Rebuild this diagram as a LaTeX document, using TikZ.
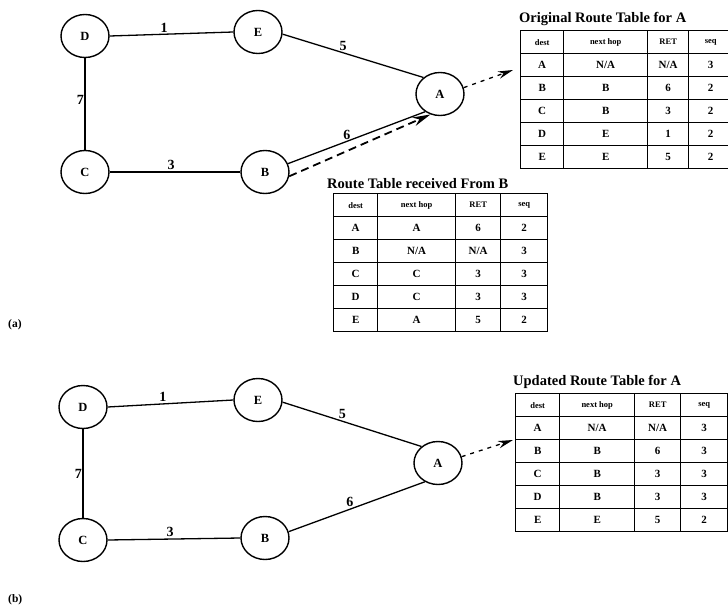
\documentclass[tikz,border=0pt]{standalone}
\usepackage{fontspec}
\setmainfont{Liberation Serif}
\usetikzlibrary{shapes.geometric,arrows.meta,matrix,calc}

\tikzset{
  router/.style={ellipse, draw, line width=1.4pt, minimum width=48pt, minimum height=43pt,
    inner sep=0pt, font=\bfseries\fontsize{12.5}{12.5}\selectfont},
  link/.style={line width=1.3pt},
  weight/.style={font=\bfseries\fontsize{14}{14}\selectfont, inner sep=1.5pt},
  update/.style={line width=1.8pt, dash pattern=on 8pt off 5pt, -{Stealth[length=18pt,width=9pt]}},
  handoff/.style={line width=1.3pt, dash pattern=on 4pt off 5pt, -{Stealth[length=15pt,width=7.5pt]}},
  routetable/.style={matrix of nodes, anchor=north west, inner sep=0pt, outer sep=0pt,
    column sep=-1.4pt, row sep=-1.4pt,
    nodes={draw, line width=1.4pt, inner sep=0pt, outer sep=0pt, minimum height=23pt,
      font=\bfseries\fontsize{11}{11}\selectfont, anchor=center},
    row 1/.style={nodes={font=\bfseries\fontsize{8.5}{9}\selectfont}}},
  tabletitle/.style={anchor=base west, inner sep=0pt, font=\bfseries\fontsize{14.5}{15}\selectfont},
  panel/.style={anchor=base west, inner sep=0pt, font=\bfseries\fontsize{11.5}{12}\selectfont},
}

\begin{document}
\begin{tikzpicture}[x=1pt, y=-1pt]
\useasboundingbox (0,0) rectangle (728,610);

% ---------- (a) network before the update ----------
\node[router] (Da) at (85,36)  {D};
\node[router] (Ea) at (258,32) {E};
\node[router] (Aa) at (440,94) {A};
\node[router] (Ca) at (85,172) {C};
\node[router] (Ba) at (265,172){B};

\draw[link] (Da.east) -- node[weight, above, pos=0.44] {1} (Ea.west);
\draw[link] (Ea.-5) -- node[weight, above, pos=0.43] {5} (Aa.135);
\draw[link] (Da.south) -- node[weight, left, pos=0.46, inner sep=0.5pt] {7} (Ca.north);
\draw[link] (Ca.east) -- node[weight, above, pos=0.47] {3} (Ba.west);
\draw[link] (Ba.20) -- node[weight, above, pos=0.43] {6} (Aa.-130);
\draw[update] (Ba.-10) -- (Aa.-115);

% original table of A
\node[tabletitle] (t1title) at (519,23) {Original Route Table for A};
\matrix[routetable,
  column 1/.style={nodes={minimum width=43pt}},
  column 2/.style={nodes={minimum width=84pt}},
  column 3/.style={nodes={minimum width=41pt}},
  column 4/.style={nodes={minimum width=44pt}}] (T1) at (520,30) {
  dest & next hop & RET & seq \\
  A & N/A & N/A & 3 \\
  B & B & 6 & 2 \\
  C & B & 3 & 2 \\
  D & E & 1 & 2 \\
  E & E & 5 & 2 \\
};
\coordinate (t1in) at (513,70);
\draw[handoff] (Aa.15) -- (t1in);

% table received from B
\node[tabletitle] (t2title) at (327,188) {Route Table received From B};
\matrix[routetable,
  column 1/.style={nodes={minimum width=44pt}},
  column 2/.style={nodes={minimum width=78pt}},
  column 3/.style={nodes={minimum width=45pt}},
  column 4/.style={nodes={minimum width=47pt}}] (T2) at (333,193) {
  dest & next hop & RET & seq \\
  A & A & 6 & 2 \\
  B & N/A & N/A & 3 \\
  C & C & 3 & 3 \\
  D & C & 3 & 3 \\
  E & A & 5 & 2 \\
};

\node[panel] (lbla) at (8,327) {(a)};

% ---------- (b) network after the update ----------
\node[router] (Db) at (83,407) {D};
\node[router] (Eb) at (258,400) {E};
\node[router] (Ab) at (438,463) {A};
\node[router] (Cb) at (83,540) {C};
\node[router] (Bb) at (265,538) {B};

\draw[link] (Db.east) -- node[weight, above, pos=0.44] {1} (Eb.west);
\draw[link] (Eb.-5) -- node[weight, above, pos=0.43] {5} (Ab.135);
\draw[link] (Db.south) -- node[weight, left, pos=0.5, inner sep=0.5pt] {7} (Cb.north);
\draw[link] (Cb.east) -- node[weight, above, pos=0.47] {3} (Bb.west);
\draw[link] (Bb.15) -- node[weight, above, pos=0.45] {6} (Ab.-125);

% updated table of A
\node[tabletitle] (t3title) at (513,385) {Updated Route Table for A};
\matrix[routetable,
  column 1/.style={nodes={minimum width=44pt}},
  column 2/.style={nodes={minimum width=75pt}},
  column 3/.style={nodes={minimum width=46pt}},
  column 4/.style={nodes={minimum width=47pt}}] (T3) at (515,393) {
  dest & next hop & RET & seq \\
  A & N/A & N/A & 3 \\
  B & B & 6 & 3 \\
  C & B & 3 & 3 \\
  D & B & 3 & 3 \\
  E & E & 5 & 2 \\
};
\coordinate (t3in) at (513,440);
\draw[handoff] (Ab.15) -- (t3in);

\node[panel] (lblb) at (8,602) {(b)};
\end{tikzpicture}
\end{document}
